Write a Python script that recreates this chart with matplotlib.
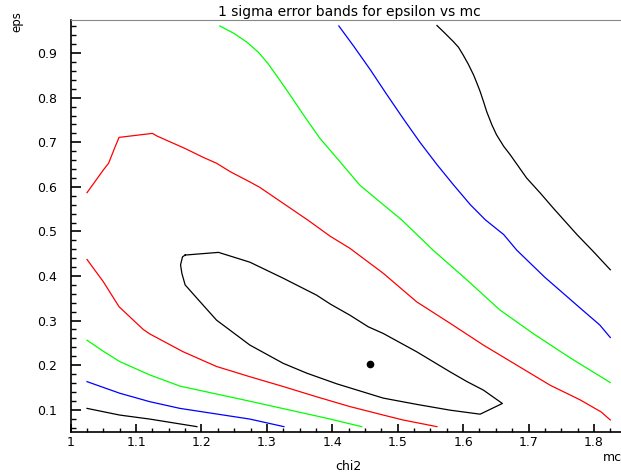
import numpy as np
import matplotlib
matplotlib.use("Agg")
import matplotlib.pyplot as plt
from matplotlib.ticker import MultipleLocator

# best fit point
best_mc = 1.458
best_eps = 0.202

# 1 sigma (closed)
c1_mc = [1.175, 1.226, 1.274, 1.325, 1.376, 1.397, 1.427, 1.455, 1.478, 1.529, 1.580,
         1.606, 1.631, 1.660, 1.626, 1.580, 1.529, 1.478, 1.407, 1.361, 1.325, 1.274,
         1.223, 1.198, 1.175, 1.170, 1.168, 1.171, 1.175]
c1_eps = [0.447, 0.453, 0.431, 0.395, 0.357, 0.337, 0.312, 0.286, 0.271, 0.230, 0.185,
          0.163, 0.144, 0.114, 0.090, 0.099, 0.112, 0.126, 0.158, 0.182, 0.204, 0.245,
          0.301, 0.342, 0.380, 0.406, 0.425, 0.443, 0.447]

# 2 sigma
c2a_mc = [1.025, 1.050, 1.058, 1.068, 1.074, 1.125, 1.132, 1.175, 1.203, 1.223, 1.244,
          1.274, 1.289, 1.363, 1.397, 1.427, 1.478, 1.529, 1.580, 1.631, 1.682, 1.733,
          1.779, 1.811, 1.825]
c2a_eps = [0.587, 0.638, 0.653, 0.690, 0.711, 0.720, 0.714, 0.686, 0.666, 0.653, 0.634,
           0.611, 0.599, 0.525, 0.489, 0.462, 0.406, 0.342, 0.294, 0.245, 0.200, 0.155,
           0.122, 0.095, 0.077]
c2b_mc = [1.025, 1.050, 1.074, 1.111, 1.121, 1.172, 1.223, 1.274, 1.325, 1.376, 1.427,
          1.478, 1.508, 1.560]
c2b_eps = [0.437, 0.387, 0.331, 0.280, 0.270, 0.230, 0.197, 0.174, 0.152, 0.129, 0.107,
           0.088, 0.077, 0.062]

# 3 sigma
c3a_mc = [1.228, 1.250, 1.270, 1.287, 1.302, 1.318, 1.336, 1.358, 1.381, 1.412, 1.442,
          1.473, 1.506, 1.554, 1.606, 1.656, 1.707, 1.764, 1.825]
c3a_eps = [0.961, 0.944, 0.924, 0.902, 0.876, 0.843, 0.805, 0.757, 0.709, 0.656, 0.604,
           0.566, 0.526, 0.458, 0.391, 0.324, 0.271, 0.216, 0.161]
c3b_mc = [1.025, 1.049, 1.075, 1.121, 1.167, 1.271, 1.391, 1.445]
c3b_eps = [0.256, 0.232, 0.208, 0.178, 0.153, 0.120, 0.081, 0.062]

# 4 sigma
c4a_mc = [1.410, 1.433, 1.458, 1.482, 1.508, 1.534, 1.560, 1.585, 1.611, 1.634,
          1.662, 1.682, 1.725, 1.779, 1.809, 1.825]
c4a_eps = [0.961, 0.915, 0.863, 0.810, 0.754, 0.700, 0.650, 0.605, 0.560, 0.526,
           0.493, 0.458, 0.397, 0.328, 0.290, 0.262]
c4b_mc = [1.025, 1.075, 1.121, 1.167, 1.274, 1.326]
c4b_eps = [0.163, 0.137, 0.118, 0.103, 0.079, 0.062]

# 5 sigma
c5a_mc = [1.560, 1.572, 1.585, 1.593, 1.600, 1.608, 1.616, 1.621, 1.626, 1.631, 1.636,
          1.644, 1.651, 1.662, 1.672, 1.697, 1.718, 1.738, 1.774, 1.799, 1.825]
c5a_eps = [0.962, 0.945, 0.926, 0.913, 0.896, 0.875, 0.851, 0.833, 0.814, 0.792, 0.769,
           0.739, 0.717, 0.691, 0.672, 0.620, 0.586, 0.552, 0.493, 0.455, 0.414]
c5b_mc = [1.025, 1.075, 1.121, 1.193]
c5b_eps = [0.103, 0.088, 0.079, 0.062]

x_ticks = [1.0, 1.1, 1.2, 1.3, 1.4, 1.5, 1.6, 1.7, 1.8]
x_labels = ["1", "1.1", "1.2", "1.3", "1.4", "1.5", "1.6", "1.7", "1.8"]
y_ticks = [0.1, 0.2, 0.3, 0.4, 0.5, 0.6, 0.7, 0.8, 0.9]
y_labels = ["0.1", "0.2", "0.3", "0.4", "0.5", "0.6", "0.7", "0.8", "0.9"]

fig = plt.figure(figsize=(6.21, 4.74), dpi=100)
ax = fig.add_axes([0.1138, 0.0886, 0.8974, 0.8698])

lw = 0.9
ax.plot(c1_mc, c1_eps, color="black", lw=lw)
ax.plot(c2a_mc, c2a_eps, color="#ff0000", lw=lw)
ax.plot(c2b_mc, c2b_eps, color="#ff0000", lw=lw)
ax.plot(c3a_mc, c3a_eps, color="#00ff00", lw=lw)
ax.plot(c3b_mc, c3b_eps, color="#00ff00", lw=lw)
ax.plot(c4a_mc, c4a_eps, color="#0000ff", lw=lw)
ax.plot(c4b_mc, c4b_eps, color="#0000ff", lw=lw)
ax.plot(c5a_mc, c5a_eps, color="black", lw=lw)
ax.plot(c5b_mc, c5b_eps, color="black", lw=lw)
ax.plot([best_mc], [best_eps], "o", color="black", ms=4.5)

ax.set_xlim(1.0, 1.852)
ax.set_ylim(0.05, 0.975)
ax.set_xticks(x_ticks)
ax.set_xticklabels(x_labels)
ax.set_yticks(y_ticks)
ax.set_yticklabels(y_labels)
ax.xaxis.set_minor_locator(MultipleLocator(0.025))
ax.yaxis.set_minor_locator(MultipleLocator(0.02))
ax.tick_params(axis="x", which="major", direction="in", length=6, width=1.2, labelsize=9, pad=3)
ax.tick_params(axis="x", which="minor", direction="in", length=2.6, width=1.0)
ax.tick_params(axis="y", which="major", direction="in", length=7.2, width=1.2, labelsize=9, pad=10)
ax.tick_params(axis="y", which="minor", direction="in", length=3.6, width=1.0)

ax.spines["right"].set_visible(False)
ax.spines["top"].set_color("#888888")
ax.spines["left"].set_linewidth(1.2)
ax.spines["bottom"].set_linewidth(1.2)

ax.set_title("1 sigma error bands for epsilon vs mc", fontsize=10, pad=3)
fig.text(17 / 621, 1 - 22 / 474, "eps", rotation=90, ha="center", va="center", fontsize=8.5)
fig.text(348 / 621, 1 - 466 / 474, "chi2", ha="center", va="center", fontsize=9)
fig.text(603 / 621, 1 - 457.7 / 474, "mc", ha="left", va="center", fontsize=9)

fig.savefig("out.png", dpi=100)
